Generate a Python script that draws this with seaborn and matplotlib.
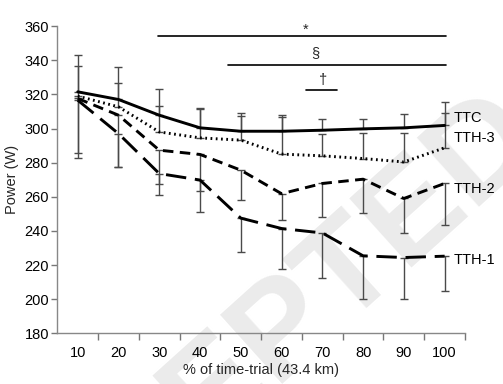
import numpy as np
import pandas as pd
import matplotlib
matplotlib.use("Agg")
import matplotlib.pyplot as plt
import seaborn as sns

# ---- data ----
categories = ["10", "20", "30", "40", "50", "60", "70", "80", "90", "100"]
series_names = ["TTC", "TTH-3", "TTH-2", "TTH-1"]
ttc = [321.5, 317.0, 307.8, 300.4, 298.4, 298.4, 299.0, 299.8, 300.4, 301.8]
tth3 = [319.0, 312.7, 298.0, 294.5, 293.2, 285.0, 284.0, 282.4, 280.4, 288.7]
tth2 = [317.6, 307.8, 287.3, 284.8, 275.6, 261.8, 267.8, 270.3, 259.0, 267.8]
tth1 = [316.6, 297.0, 273.6, 269.8, 247.5, 241.4, 238.8, 225.4, 224.4, 225.2]
# one-sided SD (TTC, TTH-3 upward; TTH-2, TTH-1 downward)
ttc_sd = [21.5, 19.1, 15.1, 11.7, 10.8, 9.8, 6.3, 5.7, 8.0, 13.8]
tth3_sd = [17.6, 14.1, 15.3, 17.0, 14.2, 22.0, 12.7, 15.1, 17.1, 20.1]
tth2_sd = [32.2, 30.3, 20.1, 21.4, 17.4, 15.5, 19.6, 19.6, 20.5, 24.5]
tth1_sd = [33.6, 19.5, 12.7, 18.7, 19.8, 23.5, 26.1, 25.4, 24.4, 20.6]

values = [ttc, tth3, tth2, tth1]
sds = [ttc_sd, tth3_sd, tth2_sd, tth1_sd]
directions = [1, 1, -1, -1]

sig_labels = ["*", "§", "†"]

sns.set_theme(style="white")
plt.rcParams["font.family"] = ["Liberation Sans", "DejaVu Sans"]

fig = plt.figure(figsize=(5.03, 3.84), dpi=100)
ax = fig.add_axes([0.114, 0.132, 0.8105, 0.8])

# watermark (behind everything)
ax.text(0.485, 0.04, "ACCEPTED", fontsize=98, fontweight="bold", color="#ebebeb",
        rotation=42, ha="center", va="center", transform=fig.transFigure,
        zorder=0.1, clip_on=False)

xs = np.arange(len(categories))
rows = []
for name, vals in zip(series_names, values):
    for i, v in enumerate(vals):
        rows.append({"x": xs[i], "power": v, "series": name})
df = pd.DataFrame(rows)

# error bars
for vals, sd, d in zip(values, sds, directions):
    vals = np.array(vals); sd = np.array(sd)
    if d > 0:
        yerr = [np.zeros_like(sd), sd]
    else:
        yerr = [sd, np.zeros_like(sd)]
    ax.errorbar(xs, vals, yerr=yerr, fmt="none", ecolor="#4a4a4a", elinewidth=1.0,
                capsize=3, capthick=1.0, zorder=2)

dashes = {"TTC": "", "TTH-3": (0.6, 1.2), "TTH-2": (3.6, 2.2), "TTH-1": (7.0, 3.0)}
sns.lineplot(data=df, x="x", y="power", hue="series", style="series",
             palette={n: "black" for n in series_names}, dashes=dashes,
             linewidth=2.1, legend=False, ax=ax, zorder=3)

# series labels
label_y = [305.9, 294.7, 264.8, 223.2]
for name, yy in zip(series_names, label_y):
    ax.text(9.22, yy, name, fontsize=10.5, ha="left", va="center", color="black",
            zorder=5)

# significance bars
sig_lines = [(1.98, 9.04, 354.1), (3.69, 9.04, 337.5), (5.61, 6.35, 322.5)]
sig_text = [(5.59, 358.0), (5.83, 344.0), (6.02, 328.5)]
for (x0, x1, yy), (tx, ty), lab in zip(sig_lines, sig_text, sig_labels):
    ax.plot([x0, x1], [yy, yy], color="black", lw=1.2, clip_on=False, zorder=4)
    ax.text(tx, ty, lab, fontsize=10.5, ha="center", va="center", zorder=5)

ax.set_xlim(-0.5, 9.5)
ax.set_ylim(180, 360)
ax.set_yticks(np.arange(180, 361, 20))
ax.set_xticks(xs)
ax.set_xticklabels(categories)
ax.set_xticks(np.arange(0.5, 9.6, 1.0), minor=True)
ax.tick_params(axis="x", which="major", length=0, labelsize=10.5, pad=9, colors="black")
ax.tick_params(axis="x", which="minor", length=5, width=1, color="#777777", direction="out", bottom=True)
ax.tick_params(axis="y", which="major", length=4, width=1, color="#777777", direction="out",
               labelsize=10.5, left=True, pad=2, labelcolor="black")
for s in ["top", "right"]:
    ax.spines[s].set_visible(False)
for s in ["left", "bottom"]:
    ax.spines[s].set_color("#888888")
    ax.spines[s].set_linewidth(1.0)

ax.set_xlabel("% of time-trial (43.4 km)", fontsize=10.5, labelpad=2)
ax.set_ylabel("Power (W)", fontsize=10.5, labelpad=4)

fig.savefig("out.png", dpi=100)
